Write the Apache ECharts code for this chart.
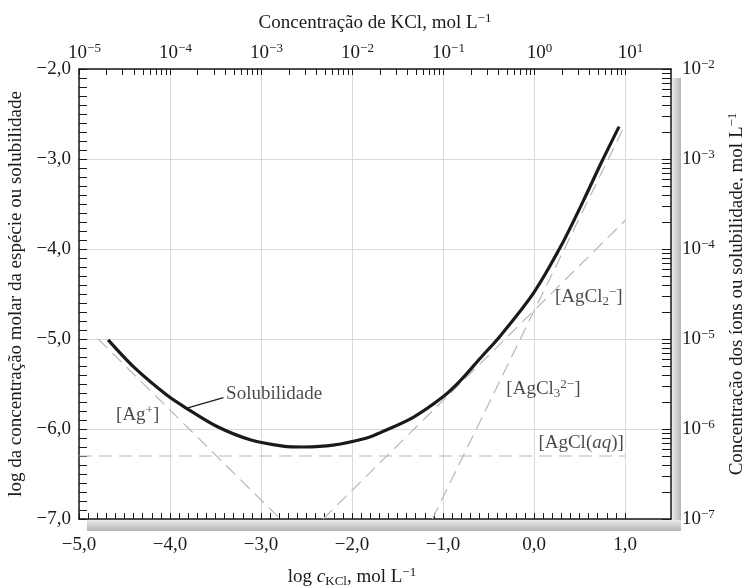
<!DOCTYPE html>
<html><head><meta charset="utf-8">
<script src="https://cdn.jsdelivr.net/npm/echarts@6/dist/echarts.min.js"></script>
<style>html,body{margin:0;padding:0;background:#fff}#c{width:743px;height:586px}</style>
</head><body><div id="c"></div>
<script>
// ---------- data ----------
const bottomTickValues = [-5, -4, -3, -2, -1, 0, 1];
const bottomTickLabels = ['\u22125,0', '\u22124,0', '\u22123,0', '\u22122,0', '\u22121,0', '0,0', '1,0'];
const leftTickValues = [-7, -6, -5, -4, -3, -2];
const leftTickLabels = ['\u22127,0', '\u22126,0', '\u22125,0', '\u22124,0', '\u22123,0', '\u22122,0'];
const topTickExponents = [-5, -4, -3, -2, -1, 0, 1];
const rightTickExponents = [-7, -6, -5, -4, -3, -2];
const topMinorDecades = [-5, -4, -3, -2, -1, 0];
const rightMinorDecades = [-7, -6, -5, -4, -3];
const minorMultipliers = [2, 3, 4, 5, 6, 7, 8, 9];

const solubilityX = [-4.68, -4.40, -4.04, -3.82, -3.49, -3.12, -2.76, -2.53, -2.21, -1.84, -1.69, -1.33, -1.00, -0.81, -0.60, -0.37, -0.01, 0.29, 0.54, 0.73, 0.93];
const solubilityY = [-5.01, -5.31, -5.62, -5.77, -5.97, -6.12, -6.19, -6.20, -6.18, -6.10, -6.04, -5.87, -5.64, -5.46, -5.22, -4.96, -4.49, -3.97, -3.46, -3.05, -2.64];
const agX = [-4.79, -2.79];
const agY = [-5.0, -7.0];
const aqX = [-5.0, 1.0];
const aqY = [-6.3, -6.3];
const cl2X = [-2.32, 1.0];
const cl2Y = [-7.0, -3.68];
const cl3X = [-1.12, 1.0];
const cl3Y = [-7.0, -2.61];
const leaderX = [-3.824, -3.414];
const leaderY = [-5.77, -5.652];

// ---------- chart ----------
const FONT = "'Liberation Serif','Times New Roman',serif";
const FS = 19;
const INK = '#1a1a1a';
const pairs = (xs, ys) => xs.map((x, i) => [x, ys[i]]);
const minusify = n => (n < 0 ? '\u2212' : '') + Math.abs(n);
const isInt = v => Math.abs(v - Math.round(v)) < 1e-6;
const powLabel = v => '{b|10}{s|' + minusify(Math.round(v)) + '}';
const pickLabel = (vals, labels) => v => {
  const i = vals.findIndex(t => Math.abs(t - v) < 1e-6);
  return i < 0 ? '' : labels[i];
};
const powRich = {
  b: { fontFamily: FONT, fontSize: FS, color: INK },
  s: { fontFamily: FONT, fontSize: 13, color: INK, padding: [0, 0, 9, 0] }
};
const powRichTop = {
  b: { fontFamily: FONT, fontSize: FS, color: INK, padding: [0, 0, 0, 11] },
  s: { fontFamily: FONT, fontSize: 13, color: INK, padding: [0, 0, 9, 0] }
};
const black = { color: INK, width: 1 };
const gridLine = { show: true, lineStyle: { color: '#d9d9d9', width: 1 } };

const topMinorTicks = [];
topMinorDecades.forEach(n => minorMultipliers.forEach(k => topMinorTicks.push([n + Math.log10(k), -2])));
const rightMinorTicks = [];
rightMinorDecades.forEach(n => minorMultipliers.forEach(k => rightMinorTicks.push([1.5, n + Math.log10(k)])));

const textRich = {
  t: { fontFamily: FONT, fontSize: FS, color: INK },
  i: { fontFamily: FONT, fontSize: FS, color: INK, fontStyle: 'italic' },
  sup: { fontFamily: FONT, fontSize: 13, color: INK, padding: [0, 0, 9, 0] },
  sub: { fontFamily: FONT, fontSize: 13, color: INK, padding: [9, 0, 0, 0] }
};

const dashed = { color: '#b8b8b8', width: 1.2, type: [13, 7] };

const option = {
  animation: false,
  backgroundColor: '#fff',
  graphic: [
    { type: 'rect', shape: { x: 87, y: 520, width: 594, height: 11 },
      style: { fill: new echarts.graphic.LinearGradient(0, 0, 0, 1, [{ offset: 0, color: '#ebebeb' }, { offset: 1, color: '#b4b4b4' }]) }, z: -10 },
    { type: 'rect', shape: { x: 672, y: 78, width: 9, height: 442 },
      style: { fill: new echarts.graphic.LinearGradient(0, 0, 1, 0, [{ offset: 0, color: '#ebebeb' }, { offset: 1, color: '#b4b4b4' }]) }, z: -10 }
  ],
  grid: [
    { left: 79, top: 69, width: 592, height: 450, containLabel: false, outerBoundsMode: 'none' },
    { left: 79, top: 69, width: 546, height: 450, containLabel: false, outerBoundsMode: 'none' }
  ],
  xAxis: [
    { gridIndex: 0, type: 'value', position: 'bottom', min: -5, max: 1.5, interval: 1,
      axisLine: { show: true, onZero: false, lineStyle: { color: INK, width: 1.5 } },
      axisTick: { show: false }, axisLabel: { show: false }, splitLine: gridLine },
    { gridIndex: 0, type: 'value', position: 'top', min: -5, max: 1.5, interval: 1,
      axisLine: { show: true, onZero: false, lineStyle: { color: INK, width: 1.5 } },
      axisTick: { show: false }, axisLabel: { show: false }, splitLine: { show: false },
      name: '{t|Concentra\u00e7\u00e3o de KCl, mol L}{sup|\u22121}', nameLocation: 'middle', nameGap: 35,
      nameTextStyle: { rich: textRich } },
    { gridIndex: 1, type: 'value', position: 'bottom', min: -5, max: 1, interval: 1,
      axisLine: { show: false, onZero: false },
      axisTick: { show: true, inside: true, length: 6, lineStyle: black },
      minorTick: { show: true, splitNumber: 10, length: 6, lineStyle: black },
      axisLabel: { show: true, margin: 17, fontFamily: FONT, fontSize: FS, color: INK,
        formatter: pickLabel(bottomTickValues, bottomTickLabels) },
      splitLine: { show: false },
      name: '{t|log }{i|c}{sub|KCl}{t|, mol L}{sup|\u22121}', nameLocation: 'middle', nameGap: 47,
      nameTextStyle: { rich: textRich } },
    { gridIndex: 1, type: 'value', position: 'top', min: -5, max: 1, interval: 1,
      axisLine: { show: false, onZero: false },
      axisTick: { show: true, inside: true, length: 6, lineStyle: black },
      axisLabel: { show: true, margin: 5, formatter: v => (isInt(v) && topTickExponents.includes(Math.round(v))) ? powLabel(v) : '', rich: powRichTop },
      splitLine: { show: false } }
  ],
  yAxis: [
    { gridIndex: 0, type: 'value', position: 'left', min: -7, max: -2, interval: 1,
      axisLine: { show: true, onZero: false, lineStyle: { color: INK, width: 1.5 } },
      axisTick: { show: true, inside: true, length: 8, lineStyle: black },
      minorTick: { show: true, splitNumber: 10, length: 8, lineStyle: black },
      axisLabel: { margin: 8, fontFamily: FONT, fontSize: FS, color: INK,
        formatter: pickLabel(leftTickValues, leftTickLabels) },
      splitLine: gridLine,
      name: 'log da concentra\u00e7\u00e3o molar da esp\u00e9cie ou solubilidade', nameLocation: 'middle', nameGap: 49, nameRotate: 90,
      nameTextStyle: { fontFamily: FONT, fontSize: FS, color: INK } },
    { gridIndex: 0, type: 'value', position: 'right', min: -7, max: -2, interval: 1,
      axisLine: { show: true, onZero: false, lineStyle: { color: INK, width: 1.5 } },
      axisTick: { show: true, inside: true, length: 9, lineStyle: black },
      axisLabel: { margin: 11, formatter: v => (isInt(v) && rightTickExponents.includes(Math.round(v))) ? powLabel(v) : '', rich: powRich },
      splitLine: { show: false },
      name: '{t|Concentra\u00e7\u00e3o dos \u00edons ou solubilidade, mol L}{sup|\u22121}', nameLocation: 'middle', nameGap: 40, nameRotate: 90,
      nameTextStyle: { rich: textRich } },
    { gridIndex: 1, type: 'value', min: -7, max: -2, show: false }
  ],
  series: [
    { type: 'custom', name: 'topMinorTicks', xAxisIndex: 0, yAxisIndex: 0, silent: true, clip: false, z: 5,
      data: topMinorTicks,
      renderItem: (params, api) => {
        const p = api.coord([api.value(0), api.value(1)]);
        const x = Math.round(p[0]) + 0.5;
        return { type: 'line', shape: { x1: x, y1: p[1], x2: x, y2: p[1] + 6 }, style: { stroke: INK, lineWidth: 1 } };
      } },
    { type: 'custom', name: 'rightMinorTicks', xAxisIndex: 0, yAxisIndex: 0, silent: true, clip: false, z: 5,
      data: rightMinorTicks,
      renderItem: (params, api) => {
        const p = api.coord([api.value(0), api.value(1)]);
        const y = Math.round(p[1]) + 0.5;
        return { type: 'line', shape: { x1: p[0], y1: y, x2: p[0] - 9, y2: y }, style: { stroke: INK, lineWidth: 1 } };
      } },
    { type: 'line', name: '[Ag+]', data: pairs(agX, agY), symbol: 'none', lineStyle: dashed, silent: true, z: 2 },
    { type: 'line', name: '[AgCl(aq)]', data: pairs(aqX, aqY), symbol: 'none', lineStyle: dashed, silent: true, z: 2 },
    { type: 'line', name: '[AgCl2-]', data: pairs(cl2X, cl2Y), symbol: 'none', lineStyle: dashed, silent: true, z: 2 },
    { type: 'line', name: '[AgCl3 2-]', data: pairs(cl3X, cl3Y), symbol: 'none', lineStyle: dashed, silent: true, z: 2 },
    { type: 'line', name: 'Solubilidade', data: pairs(solubilityX, solubilityY), smooth: 0.3, symbol: 'none',
      lineStyle: { color: INK, width: 3.2 }, silent: true, z: 3 },
    { type: 'line', name: 'leader', data: pairs(leaderX, leaderY), symbol: 'none',
      lineStyle: { color: INK, width: 1.2 }, silent: true, z: 3 },
    { type: 'scatter', name: 'labels', symbolSize: 0, silent: true, z: 4,
      label: { show: true, position: 'right', distance: 0, color: INK, textBorderWidth: 0, rich: textRich },
      data: [
        { value: [-3.385, -5.611], label: { formatter: '{t|Solubilidade}' } },
        { value: [-4.593, -5.844], label: { formatter: '{t|[Ag}{sup|+}{t|]}' } },
        { value: [0.044, -6.156], label: { formatter: '{t|[AgCl(}{i|aq}{t|)]}' } },
        { value: [-0.308, -5.556], label: { formatter: '{t|[AgCl}{sub|3}{sup|2\u2212}{t|]}' } },
        { value: [0.226, -4.533], label: { formatter: '{t|[AgCl}{sub|2}{sup|\u2212}{t|]}' } }
      ] }
  ]
};
const chart = echarts.init(document.getElementById('c'));
chart.setOption(option);
</script>
</body></html>
